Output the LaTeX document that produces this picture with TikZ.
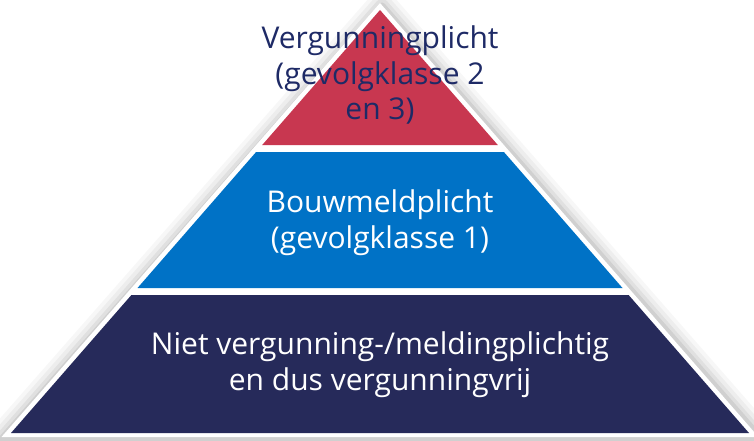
\documentclass[tikz,border=0pt]{standalone}
\usepackage{fontspec}
\setmainfont{Open Sans}
\definecolor{tred}{HTML}{C83750}
\definecolor{tblue}{HTML}{0072C6}
\definecolor{tnavy}{HTML}{262A5A}
\definecolor{ttext}{HTML}{1E2A66}
\tikzset{
  tier/.style={draw=none},
  label/.style={align=center, font=\fontsize{30}{35.5}\selectfont, inner sep=0pt, anchor=base},
  shadowline/.style={black, line join=round}
}
\begin{document}
\begin{tikzpicture}[x=1pt,y=-1pt]
\useasboundingbox (0,0) rectangle (754,441);
\clip (0,0) rectangle (754,441);
\fill[white] (0,0) rectangle (754,441);
% soft shadow
\foreach \w/\o in {30/0.03,22/0.04,14/0.05,7/0.07} {
  \draw[shadowline, line width=\w pt, opacity=\o] (382,6) -- (762,440) -- (1,440) -- cycle;
}
% white outer border
\fill[white] (380,3) -- (758.5,437) -- (1.5,437) -- cycle;
% tiers
\fill[tier, tred] (380,10) -- (497.8,145) -- (262.2,145) -- cycle;
\fill[tier, tblue] (256.1,152) -- (503.9,152) -- (622.5,288) -- (137.5,288) -- cycle;
\fill[tier, tnavy] (131.4,295) -- (628.6,295) -- (749,433) -- (11,433) -- cycle;
% labels
\node[label, text=ttext] (top) at (380,120) {Vergunningplicht\\(gevolgklasse 2\\en 3)};
\node[label, text=white] (mid) at (380,248) {Bouwmeldplicht\\(gevolgklasse 1)};
\node[label, text=white] (bot) at (380,390) {Niet vergunning-/meldingplichtig\\en dus vergunningvrij};
\end{tikzpicture}
\end{document}
